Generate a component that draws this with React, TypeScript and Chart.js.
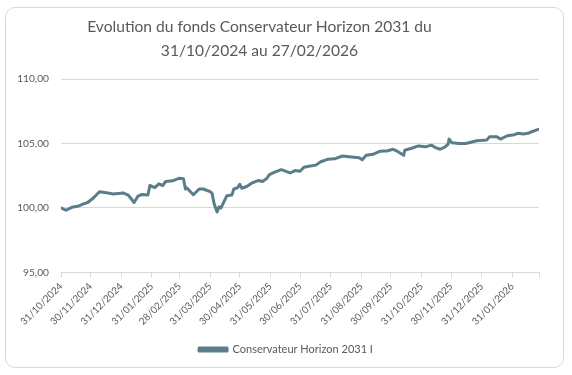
import React, { useEffect, useRef } from "react";
import { Chart, registerables } from "chart.js";

Chart.register(...registerables);

const titleLines = ["Evolution du fonds Conservateur Horizon 2031 du", "31/10/2024 au 27/02/2026"];
const seriesName = "Conservateur Horizon 2031 I";
const startDate = "2024-10-31";

const dates = [
  "2024-10-31", "2024-11-05", "2024-11-11", "2024-11-18", "2024-11-22", "2024-11-27",
  "2024-12-03", "2024-12-09", "2024-12-16", "2024-12-23", "2025-01-02", "2025-01-07",
  "2025-01-13", "2025-01-17", "2025-01-21", "2025-01-27", "2025-01-29", "2025-02-03",
  "2025-02-07", "2025-02-11", "2025-02-14", "2025-02-21", "2025-02-28", "2025-03-04",
  "2025-03-06", "2025-03-07", "2025-03-14", "2025-03-20", "2025-03-24", "2025-03-31",
  "2025-04-02", "2025-04-04", "2025-04-07", "2025-04-09", "2025-04-11", "2025-04-17",
  "2025-04-22", "2025-04-24", "2025-04-28", "2025-04-30", "2025-05-02", "2025-05-07",
  "2025-05-12", "2025-05-19", "2025-05-23", "2025-05-27", "2025-05-30", "2025-06-05",
  "2025-06-11", "2025-06-16", "2025-06-20", "2025-06-25", "2025-06-30", "2025-07-04",
  "2025-07-09", "2025-07-16", "2025-07-21", "2025-07-28", "2025-08-04", "2025-08-12",
  "2025-08-21", "2025-08-29", "2025-09-01", "2025-09-05", "2025-09-12", "2025-09-18",
  "2025-09-22", "2025-09-26", "2025-10-02", "2025-10-06", "2025-10-13", "2025-10-14",
  "2025-10-21", "2025-10-28", "2025-11-04", "2025-11-10", "2025-11-14", "2025-11-19",
  "2025-11-24", "2025-11-27", "2025-11-28", "2025-12-01", "2025-12-08", "2025-12-15",
  "2025-12-19", "2025-12-26", "2026-01-05", "2026-01-08", "2026-01-15", "2026-01-19",
  "2026-01-26", "2026-02-02", "2026-02-06", "2026-02-11", "2026-02-16", "2026-02-19",
  "2026-02-24", "2026-02-27",
];

const values = [
  100.0, 99.82, 100.05, 100.15, 100.3, 100.42,
  100.79, 101.26, 101.18, 101.08, 101.16, 101.0,
  100.42, 100.92, 101.05, 101.0, 101.74, 101.58,
  101.87, 101.74, 102.05, 102.1, 102.31, 102.26,
  101.47, 101.58, 101.02, 101.47, 101.47, 101.26,
  101.13, 100.34, 99.68, 100.08, 100.0, 100.95,
  101.0, 101.47, 101.58, 101.84, 101.53, 101.66,
  101.92, 102.13, 102.05, 102.26, 102.58, 102.79,
  102.97, 102.84, 102.71, 102.9, 102.84, 103.16,
  103.24, 103.32, 103.58, 103.77, 103.81, 104.03,
  103.95, 103.89, 103.73, 104.08, 104.16, 104.37,
  104.42, 104.42, 104.55, 104.42, 104.08, 104.47,
  104.63, 104.81, 104.74, 104.87, 104.68, 104.55,
  104.74, 104.95, 105.34, 105.05, 105.0, 105.0,
  105.08, 105.21, 105.26, 105.53, 105.53, 105.34,
  105.6, 105.68, 105.79, 105.74, 105.79, 105.89,
  106.03, 106.1,
];

const xTickDates = [
  "2024-10-31", "2024-11-30", "2024-12-31", "2025-01-31", "2025-02-28", "2025-03-31",
  "2025-04-30", "2025-05-31", "2025-06-30", "2025-07-31", "2025-08-31", "2025-09-30",
  "2025-10-31", "2025-11-30", "2025-12-31", "2026-01-31", "2026-02-27",
];
const xTickLabels = [
  "31/10/2024", "30/11/2024", "31/12/2024", "31/01/2025", "28/02/2025", "31/03/2025",
  "30/04/2025", "31/05/2025", "30/06/2025", "31/07/2025", "31/08/2025", "30/09/2025",
  "31/10/2025", "30/11/2025", "31/12/2025", "31/01/2026", "",
];
const yTicks = [95, 100, 105, 110];

const FONT = "Lato";
const TEXT = "#595959";
const GRID = "#d9d9d9";
const LINE = "#5a7d8a";

function toDays(s: string): number {
  const [y, m, d] = s.split("-").map(Number);
  const [y0, m0, d0] = startDate.split("-").map(Number);
  return Math.round((Date.UTC(y, m - 1, d) - Date.UTC(y0, m0 - 1, d0)) / 86400000);
}

function fitSize(text: string, target: number, fallback: number): number {
  const c = document.createElement("canvas").getContext("2d");
  if (!c) return fallback;
  c.font = `40px ${FONT}`;
  const w = c.measureText(text).width;
  if (!w) return fallback;
  return Math.round((40 * target) / w * 10) / 10;
}

const shiftBoxes = {
  id: "shiftBoxes",
  beforeDraw(chart: any) {
    const t = chart.titleBlock;
    if (t) {
      t.left = 0;
      t.right = 519;
      t.width = 519;
    }
    const l = chart.legend;
    if (l) {
      l.left = 0;
      l.right = 572;
      l.width = 572;
    }
  },
};

export default function App() {
  const ref = useRef<HTMLCanvasElement | null>(null);
  useEffect(() => {
    if (!ref.current) return;
    const tickDays = xTickDates.map(toDays);
    const titleSize = fitSize(titleLines[0], 345, 16);
    const ySize = fitSize("110,00", 32, 12);
    const xSize = fitSize("31/01/2026", 55, 11);
    const legSize = fitSize(seriesName, 140, 12);
    const chart = new Chart(ref.current, {
      type: "line",
      data: {
        datasets: [
          {
            label: seriesName,
            data: dates.map((d, i) => ({ x: toDays(d), y: values[i] })),
            borderColor: LINE,
            backgroundColor: LINE,
            borderWidth: 3,
            pointRadius: 0,
            tension: 0,
            borderJoinStyle: "round",
            borderCapStyle: "round",
          },
        ],
      },
      options: {
        responsive: false,
        animation: false,
        layout: { padding: { left: 0, right: 33, top: 0, bottom: 10 } },
        plugins: {
          title: {
            display: true,
            text: titleLines,
            color: TEXT,
            font: { family: FONT, size: titleSize, weight: "normal", lineHeight: 24 / titleSize },
            padding: { top: 14.5, bottom: 16.5 },
          },
          legend: {
            display: true,
            position: "bottom",
            labels: {
              color: TEXT,
              font: { family: FONT, size: legSize },
              boxWidth: 28,
              boxHeight: 3,
              padding: 10,
            },
          },
          tooltip: { enabled: false },
        },
        scales: {
          x: {
            type: "linear",
            min: 0,
            max: tickDays[tickDays.length - 1],
            afterBuildTicks: (scale: any) => {
              scale.ticks = tickDays.map((v) => ({ value: v }));
            },
            afterFit: (scale: any) => {
              scale.height = 61.6;
            },
            ticks: {
              autoSkip: false,
              minRotation: 45,
              maxRotation: 45,
              color: TEXT,
              font: { family: FONT, size: xSize },
              padding: 3,
              callback: (v: any) => {
                const i = tickDays.indexOf(Number(v));
                return i >= 0 ? xTickLabels[i] : "";
              },
            },
            grid: { display: true, drawOnChartArea: false, drawTicks: true, tickLength: 5, color: GRID },
            border: { display: true, color: GRID, width: 1 },
          },
          y: {
            min: 95,
            max: 110,
            afterBuildTicks: (scale: any) => {
              scale.ticks = yTicks.map((v) => ({ value: v }));
            },
            afterFit: (scale: any) => {
              scale.width = 61;
            },
            ticks: {
              color: TEXT,
              font: { family: FONT, size: ySize },
              padding: 12,
              callback: (v: any) => Number(v).toFixed(2).replace(".", ","),
            },
            grid: { color: GRID, drawTicks: false },
            border: { display: false },
          },
        },
      },
      plugins: [shiftBoxes],
    } as any);
    return () => chart.destroy();
  }, []);

  return (
    <div style={{ position: "fixed", left: 0, top: 0, width: 572, height: 375, background: "#fff" }}>
      <div
        style={{
          position: "absolute",
          left: 5,
          top: 7,
          width: 559,
          height: 361,
          boxSizing: "border-box",
          border: "1px solid #d9d9d9",
          borderRadius: 10,
        }}
      />
      <canvas ref={ref} width={572} height={375} style={{ position: "absolute", left: 0, top: 0, width: 572, height: 375 }} />
    </div>
  );
}
